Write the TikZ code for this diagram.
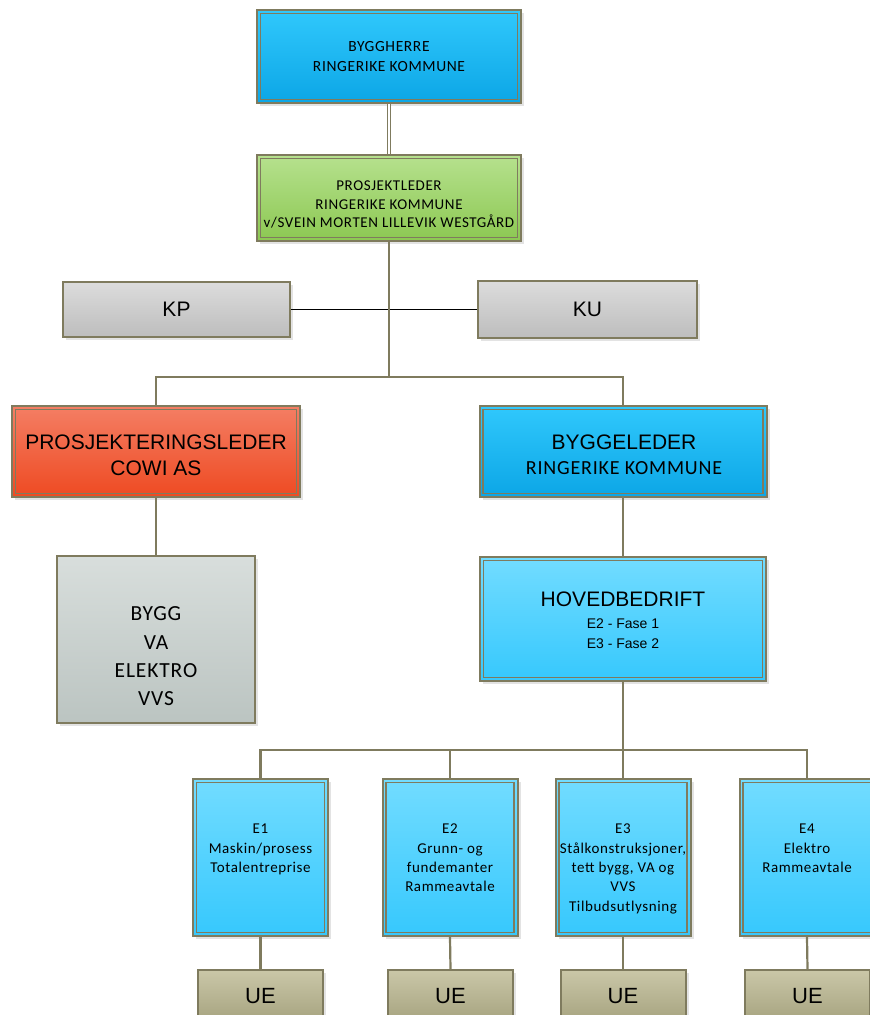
\documentclass[tikz,border=0pt]{standalone}
\usepackage{fontspec}
\setmainfont[LetterSpace=4]{Carlito}
\newfontfamily\arial{Liberation Sans}
\usetikzlibrary{shadows}
\definecolor{frame}{HTML}{7F7B5E}
\definecolor{bluetop}{HTML}{30C8FC}
\definecolor{bluebot}{HTML}{0CA6E6}
\definecolor{lbluetop}{HTML}{72DCFF}
\definecolor{lbluebot}{HTML}{36C8FD}
\definecolor{greentop}{HTML}{B6E18E}
\definecolor{greenbot}{HTML}{8CC852}
\definecolor{redtop}{HTML}{F47E64}
\definecolor{redbot}{HTML}{EE4A22}
\definecolor{greytop}{HTML}{DCDCDC}
\definecolor{greybot}{HTML}{BDBDBD}
\definecolor{sagetop}{HTML}{D8DEDC}
\definecolor{sagebot}{HTML}{BBC4C1}
\definecolor{khakitop}{HTML}{CAC7A8}
\definecolor{khakibot}{HTML}{A6A37F}
\newcommand{\setfs}[2]{\fontsize{#1}{#2}\selectfont}
\newcommand{\innerframe}[1]{\draw[frame, line width=1.4pt] ([xshift=4.5pt,yshift=-4.5pt]#1.north west) rectangle ([xshift=-4.5pt,yshift=4.5pt]#1.south east);}
\tikzset{
  box/.style={draw=frame, line width=2pt, inner sep=0pt, text=black,
    drop shadow={opacity=0.22, shadow xshift=3pt, shadow yshift=-3pt}},
  bluebox/.style={box, top color=bluetop, bottom color=bluebot},
  lbluebox/.style={box, top color=lbluetop, bottom color=lbluebot},
  greenbox/.style={box, top color=greentop, bottom color=greenbot},
  redbox/.style={box, top color=redtop, bottom color=redbot},
  greybox/.style={box, top color=greytop, bottom color=greybot},
  sagebox/.style={box, top color=sagetop, bottom color=sagebot},
  uebox/.style={box, top color=khakitop, bottom color=khakibot, minimum width=125pt, minimum height=52pt, font=\arial\setfs{22}{26}},
  ebox/.style={lbluebox, minimum width=135pt, minimum height=157pt},
  txt/.style={align=center, inner sep=0pt, text=black},
  etxt/.style={txt, anchor=north, font=\setfs{15}{19.3}},
  conn/.style={draw=frame, line width=2.2pt},
}
\begin{document}
\begin{tikzpicture}[x=1pt, y=-1pt]
\path[use as bounding box] (0,0) rectangle (870,1015);
\clip (0,0) rectangle (870,1015);

% boxes
\node[bluebox, minimum width=264pt, minimum height=93pt, align=center, font=\setfs{15.5}{20}] (bh) at (389,56.5) {BYGGHERRE\\RINGERIKE KOMMUNE};
\innerframe{bh}
\node[greenbox, minimum width=264pt, minimum height=86pt] (pl) at (389,198) {};
\innerframe{pl}
\node[txt, font=\setfs{15}{18.5}] (plt) at (389,204.5) {PROSJEKTLEDER\\RINGERIKE KOMMUNE\\v/SVEIN MORTEN LILLEVIK WESTGÅRD};

\node[greybox, minimum width=227pt, minimum height=55pt, font=\arial\setfs{21}{25}] (kp) at (176.5,309.5) {KP};
\node[greybox, minimum width=219pt, minimum height=57pt, font=\arial\setfs{21}{25}] (ku) at (587.5,309.5) {KU};

\node[redbox, minimum width=288pt, minimum height=91pt] (pjl) at (156,451.5) {};
\innerframe{pjl}
\node[txt, font=\arial\setfs{21}{26}] (pjlt) at (156,455) {PROSJEKTERINGSLEDER\\COWI AS};

\node[bluebox, minimum width=287pt, minimum height=91pt] (bl) at (623,451.5) {};
\innerframe{bl}
\node[txt, font=\setfs{20}{25}] (blt) at (624,455) {{\arial\setfs{21}{25}BYGGELEDER}\\RINGERIKE KOMMUNE};

\node[sagebox, minimum width=198pt, minimum height=167pt] (gr) at (156,639.5) {};
\node[txt, font=\setfs{21.5}{28.3}] (grt) at (156,656.5) {BYGG\\VA\\ELEKTRO\\VVS};

\node[lbluebox, minimum width=286pt, minimum height=124pt] (hb) at (623,619) {};
\innerframe{hb}
\node[txt, font=\arial\setfs{14}{20}] (hbt) at (623,620) {{\setfs{21}{25}HOVEDBEDRIFT}\\[1.5pt]E2 - Fase 1\\E3 - Fase 2};

\node[ebox] (e1) at (260.5,857.5) {};
\innerframe{e1}
\node[etxt] (e1t) at (260.5,824) {E1\\Maskin/prosess\\Totalentreprise};
\node[ebox] (e2) at (450,857.5) {};
\innerframe{e2}
\node[etxt] (e2t) at (450,824) {E2\\Grunn- og\\fundemanter\\Rammeavtale};
\node[ebox] (e3) at (623,857.5) {};
\innerframe{e3}
\node[etxt] (e3t) at (623,824) {E3\\Stålkonstruksjoner,\\tett bygg, VA og\\VVS\\Tilbudsutlysning};
\node[ebox] (e4) at (807,857.5) {};
\innerframe{e4}
\node[etxt] (e4t) at (807,824) {E4\\Elektro\\Rammeavtale};

\node[uebox] (u1) at (260.5,996) {UE};
\node[uebox] (u2) at (450.5,996) {UE};
\node[uebox] (u3) at (623,996) {UE};
\node[uebox] (u4) at (807.5,996) {UE};

% connectors
\coordinate (j1) at (389,377);
\coordinate (j2) at (623,750);
\draw[draw=frame, line width=1.1pt, double=white, double distance=2.2pt] (bh.south) -- (pl.north);
\draw[black, line width=1.8pt] (kp.east) -- (ku.west);
\draw[conn] (pl.south) -- (j1);
\draw[conn] (pjl.north) |- (j1) -| (bl.north);
\draw[conn] (pjl.south) -- (gr.north);
\draw[conn] (bl.south) -- (hb.north);
\draw[conn] (hb.south) -- (j2);
\draw[conn] (e1.north) |- (j2) -| (e4.north);
\draw[conn] (e2.north) -- (e2.north |- j2);
\draw[conn] (e3.north) -- (j2);
\draw[conn] (e1.south) -- (u1.north);
\draw[conn] (e2.south) -- (u2.north);
\draw[conn] (e3.south) -- (u3.north);
\draw[conn] (e4.south) -- (u4.north);
\end{tikzpicture}
\end{document}
